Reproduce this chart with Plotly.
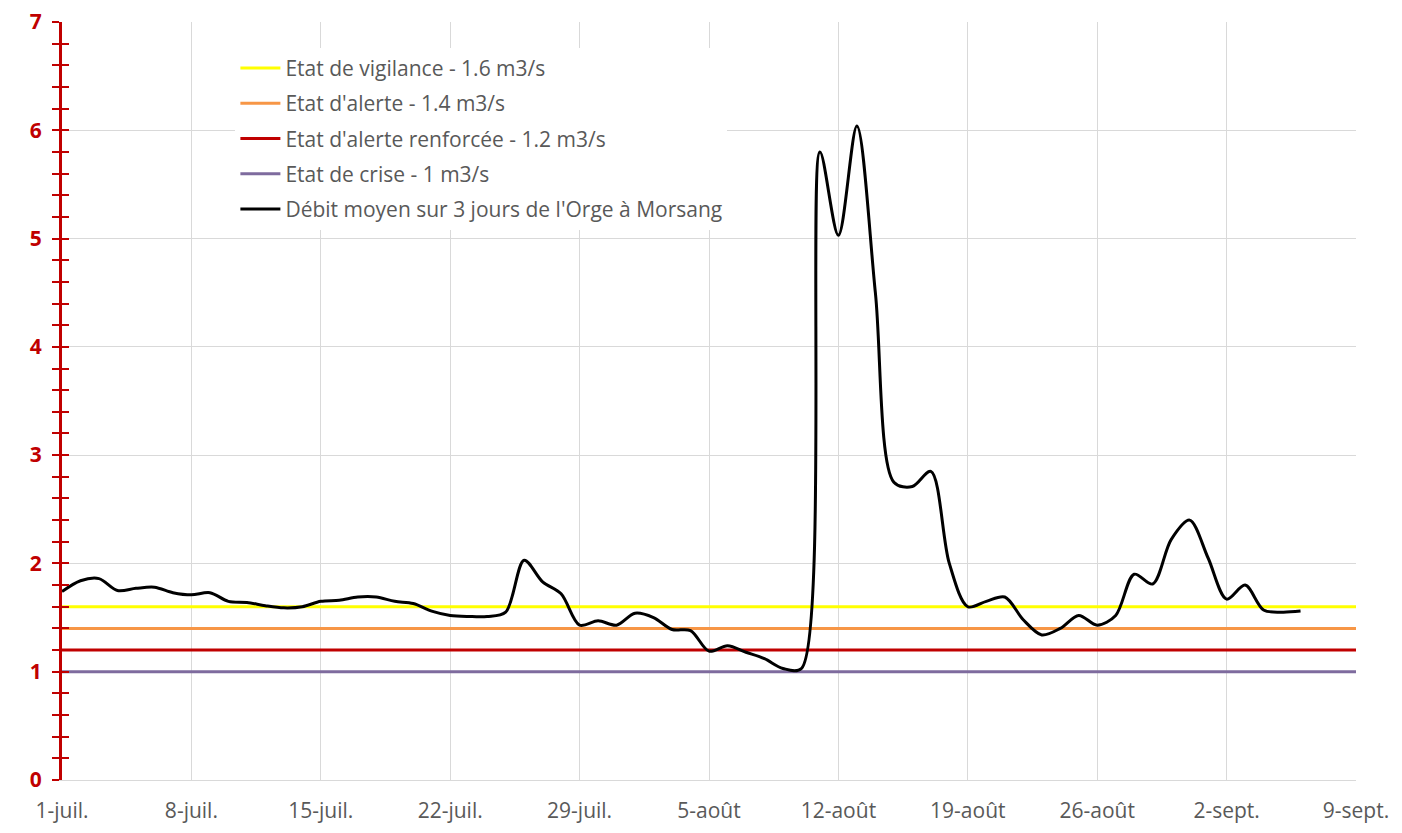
import plotly.graph_objects as go
import pandas as pd

# Daily 3-day mean flow of the Orge at Morsang (m3/s), from 1 July
start_date = "2023-07-01"
flow = [1.74, 1.84, 1.86, 1.75, 1.77, 1.78, 1.73, 1.71, 1.73, 1.65,
        1.64, 1.61, 1.59, 1.60, 1.65, 1.66, 1.69, 1.69, 1.65, 1.63,
        1.56, 1.52, 1.51, 1.51, 1.55, 2.03, 1.83, 1.72, 1.43, 1.47,
        1.43, 1.54, 1.50, 1.39, 1.38, 1.19, 1.24, 1.18, 1.12, 1.03,
        1.03, 5.80, 5.03, 6.04, 4.50, 2.75, 2.71, 2.85, 2.00, 1.60,
        1.65, 1.69, 1.48, 1.34, 1.40, 1.52, 1.43, 1.52, 1.90, 1.81,
        2.22, 2.40, 2.05, 1.67, 1.80, 1.57, 1.55, 1.56]

threshold_names = ["Etat de vigilance - 1.6 m3/s", "Etat d'alerte - 1.4 m3/s",
                   "Etat d'alerte renforcée - 1.2 m3/s", "Etat de crise - 1 m3/s"]
threshold_values = [1.6, 1.4, 1.2, 1.0]
threshold_colors = ["#FFFF00", "#F79646", "#C00000", "#7E6B9E"]
flow_name = "Débit moyen sur 3 jours de l'Orge à Morsang"

tick_dates = ["2023-07-01", "2023-07-08", "2023-07-15", "2023-07-22", "2023-07-29",
              "2023-08-05", "2023-08-12", "2023-08-19", "2023-08-26", "2023-09-02",
              "2023-09-09"]
tick_labels = ["1-juil.", "8-juil.", "15-juil.", "22-juil.", "29-juil.", "5-août",
               "12-août", "19-août", "26-août", "2-sept.", "9-sept."]

dates = pd.date_range(start_date, periods=len(flow), freq="D")
x_span = [tick_dates[0], tick_dates[-1]]

fig = go.Figure()
for i, (nm, v, c) in enumerate(zip(threshold_names, threshold_values, threshold_colors)):
    fig.add_trace(go.Scatter(x=x_span, y=[v, v], mode="lines", name=nm,
                             line=dict(color=c, width=3), legendgroup=f"g{i}",
                             hoverinfo="skip"))
fig.add_trace(go.Scatter(x=dates, y=flow, mode="lines", name=flow_name,
                         line=dict(color="#000000", width=3, shape="spline", smoothing=0.9),
                         legendgroup="g9", yaxis="y2"))

red = "#C00000"
grid = "#D9D9D9"
font_fam = "Open Sans, sans-serif"

fig.update_layout(
    width=1394, height=825,
    margin=dict(l=54, r=46, t=14, b=53, autoexpand=False),
    paper_bgcolor="white", plot_bgcolor="white",
    font=dict(family=font_fam, color="#595959", size=21),
    showlegend=True,
    legend=dict(x=0.134, y=0.966, xanchor="left", yanchor="top",
                bgcolor="white", borderwidth=0, tracegroupgap=5, itemwidth=40,
                font=dict(size=21, color="#595959"), traceorder="grouped"),
    xaxis=dict(type="date", range=x_span, tickvals=tick_dates, ticktext=tick_labels,
               showgrid=True, gridcolor=grid, gridwidth=1, ticks="",
               showline=True, linecolor=grid, linewidth=1, zeroline=False,
               automargin=False, ticklabeloverflow="allow",
               tickfont=dict(size=21, color="#595959"), ticklabelstandoff=12),
    yaxis=dict(range=[0, 7], dtick=1, tick0=0, showgrid=True, gridcolor=grid,
               zeroline=False, showline=True, linecolor=red, linewidth=3,
               automargin=False, ticklabeloverflow="allow",
               ticks="outside", ticklen=7, tickwidth=2, tickcolor=red,
               minor=dict(dtick=0.2, ticks="outside", ticklen=7, tickwidth=2,
                          tickcolor=red, showgrid=False),
               tickfont=dict(size=21, color=red, weight="bold"), ticklabelstandoff=6),
    yaxis2=dict(range=[0, 7], overlaying="y", side="left", dtick=1, tick0=0,
                showgrid=False, zeroline=False, showline=False, automargin=False,
                showticklabels=False, ticks="inside", ticklen=7, tickwidth=2,
                tickcolor=red,
                minor=dict(dtick=0.2, ticks="inside", ticklen=7, tickwidth=2,
                           tickcolor=red, showgrid=False)),
)

fig.write_html("out.html")
